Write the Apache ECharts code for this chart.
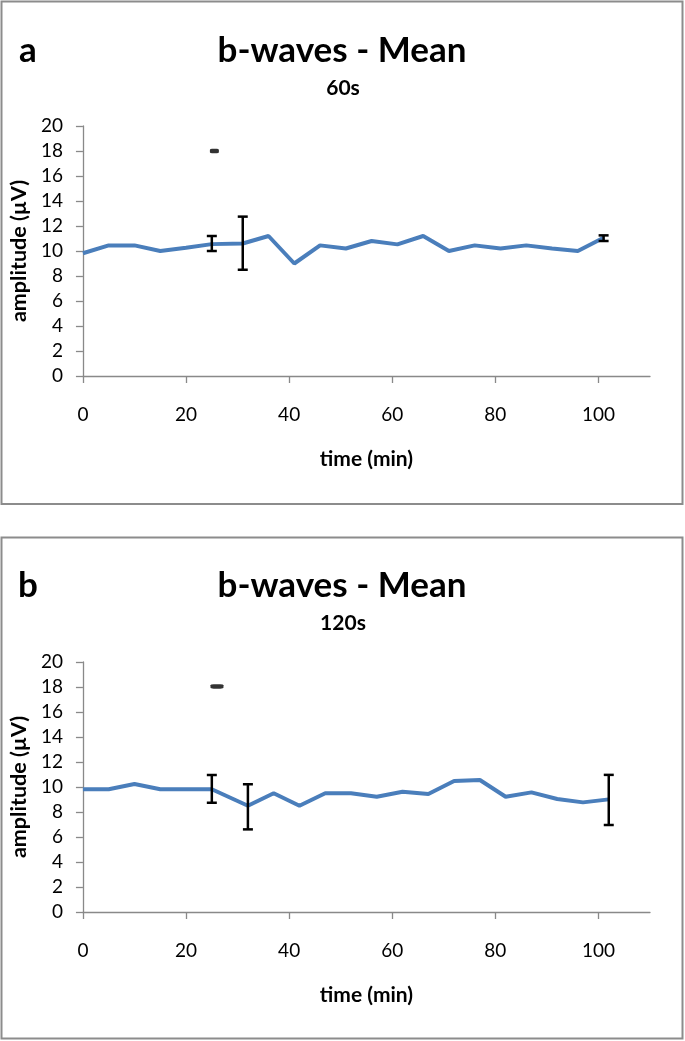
<!DOCTYPE html>
<html>
<head>
<meta charset="utf-8">
<script src="https://cdn.jsdelivr.net/npm/echarts@6/dist/echarts.min.js"></script>
<style>html,body{margin:0;padding:0;background:#fff;}#c{width:685px;height:1041px;}</style>
</head>
<body>
<div id="c"></div>
<script>
// ---- data ----
const panelLabels = ['a', 'b'];
const chartTitle = 'b-waves - Mean';
const subTitles = ['60s', '120s'];
const xTicks = [0, 20, 40, 60, 80, 100];
const yTicks = [0, 2, 4, 6, 8, 10, 12, 14, 16, 18, 20];

const timeA = [0, 5, 10, 15, 20, 25, 31, 36, 41, 46, 51, 56, 61, 66, 71, 76, 81, 86, 91, 96, 101];
const ampA  = [9.82, 10.45, 10.45, 10.0, 10.26, 10.55, 10.6, 11.2, 9.0, 10.45, 10.2, 10.8, 10.53, 11.2, 10.0, 10.45, 10.2, 10.45, 10.2, 10.0, 11.06];
const errTimeA = [25, 31, 101];
const errLowA  = [10.0, 8.5, 10.8];
const errHighA = [11.2, 12.75, 11.25];
const dashA = [25.5, 18.0];

const timeB = [0, 5, 10, 15, 20, 25, 32, 37, 42, 47, 52, 57, 62, 67, 72, 77, 82, 87, 92, 97, 102];
const ampB  = [9.82, 9.82, 10.24, 9.82, 9.82, 9.82, 8.5, 9.5, 8.5, 9.5, 9.5, 9.22, 9.62, 9.44, 10.48, 10.56, 9.22, 9.57, 9.04, 8.77, 9.01];
const errTimeB = [25, 32, 102];
const errLowB  = [8.74, 6.61, 6.96];
const errHighB = [10.96, 10.22, 10.97];
const dashB = [26, 18.05];

// ---- chart ----
const FONT = 'Lato';
const AXIS_COLOR = '#898989';
const LINE_COLOR = '#4a7ebb';

const chart = echarts.init(document.getElementById('c'), null, {renderer: 'canvas'});

const grids = [
  {left: 79, top: 126, width: 571, height: 250},
  {left: 79, top: 662, width: 571, height: 250}
];

function xAxisFor(i) {
  return {
    gridIndex: i, type: 'value', min: 0, max: 110,
    name: 'time (min)', nameLocation: 'middle', nameGap: 73,
    nameTextStyle: {fontFamily: FONT, fontWeight: 'bold', fontSize: 21, color: '#000'},
    axisLine: {show: true, onZero: false, lineStyle: {color: AXIS_COLOR, width: 1.3}},
    axisTick: {show: true, length: 7, lineStyle: {color: AXIS_COLOR, width: 1.3}, customValues: xTicks},
    axisLabel: {fontFamily: FONT, fontSize: 19, color: '#000', margin: 29, customValues: xTicks},
    splitLine: {show: false}
  };
}
function yAxisFor(i) {
  return {
    gridIndex: i, type: 'value', min: 0, max: 20, interval: 2,
    name: 'amplitude (\u00b5V)', nameLocation: 'middle', nameGap: 50, nameRotate: 90,
    nameTextStyle: {fontFamily: FONT, fontWeight: 'bold', fontSize: 21.5, color: '#000'},
    axisLine: {show: true, lineStyle: {color: AXIS_COLOR, width: 1.3}},
    axisTick: {show: true, length: 7, lineStyle: {color: AXIS_COLOR, width: 1.3}},
    axisLabel: {fontFamily: FONT, fontSize: 19, color: '#000', margin: 20, customValues: yTicks},
    splitLine: {show: false}
  };
}

function errorSeries(i, times, lows, highs) {
  return {
    type: 'custom', xAxisIndex: i, yAxisIndex: i, z: 5,
    data: times.map((t, k) => [t, lows[k], highs[k]]),
    encode: {x: 0, y: [1, 2]},
    renderItem: function (params, api) {
      const lo = api.coord([api.value(0), api.value(1)]);
      const hi = api.coord([api.value(0), api.value(2)]);
      const hw = 5;
      const st = {stroke: '#000', lineWidth: 2.5};
      return {type: 'group', children: [
        {type: 'line', shape: {x1: lo[0], y1: lo[1], x2: hi[0], y2: hi[1]}, style: st},
        {type: 'line', shape: {x1: lo[0] - hw, y1: lo[1], x2: lo[0] + hw, y2: lo[1]}, style: st},
        {type: 'line', shape: {x1: hi[0] - hw, y1: hi[1], x2: hi[0] + hw, y2: hi[1]}, style: st}
      ]};
    }
  };
}

function lineSeries(i, times, amps) {
  return {
    type: 'line', xAxisIndex: i, yAxisIndex: i, z: 3,
    data: times.map((t, k) => [t, amps[k]]),
    showSymbol: false, symbol: 'none',
    lineStyle: {color: LINE_COLOR, width: 4},
    animation: false
  };
}

function dashSeries(i, pt, w) {
  return {
    type: 'scatter', xAxisIndex: i, yAxisIndex: i, z: 6,
    data: [pt], symbol: 'roundRect', symbolSize: [w, 4.5],
    itemStyle: {color: '#000'}
  };
}

const graphics = [];
const frames = [{y: 1.5, h: 502.5}, {y: 537.5, h: 501}];
frames.forEach((f, i) => {
  graphics.push({type: 'rect', shape: {x: 1.5, y: f.y, width: 681, height: f.h},
    style: {fill: 'none', stroke: '#8c8c8c', lineWidth: 2}, silent: true});
});
const titleY = [51, 586];
const subY = [88, 623];
[0, 1].forEach(i => {
  graphics.push({type: 'text', x: 28, y: titleY[i], style: {text: panelLabels[i], font: 'bold 35px ' + FONT, fill: '#000', textAlign: 'center', textVerticalAlign: 'middle'}});
  graphics.push({type: 'text', x: 342, y: titleY[i], style: {text: chartTitle, font: 'bold 35px ' + FONT, fill: '#000', textAlign: 'center', textVerticalAlign: 'middle'}});
  graphics.push({type: 'text', x: 343, y: subY[i], style: {text: subTitles[i], font: 'bold 21px ' + FONT, fill: '#000', textAlign: 'center', textVerticalAlign: 'middle'}});
});

chart.setOption({
  animation: false,
  backgroundColor: '#fff',
  grid: grids,
  xAxis: [xAxisFor(0), xAxisFor(1)],
  yAxis: [yAxisFor(0), yAxisFor(1)],
  series: [
    lineSeries(0, timeA, ampA),
    errorSeries(0, errTimeA, errLowA, errHighA),
    dashSeries(0, dashA, 9),
    lineSeries(1, timeB, ampB),
    errorSeries(1, errTimeB, errLowB, errHighB),
    dashSeries(1, dashB, 13)
  ],
  graphic: graphics
});
</script>
</body>
</html>
